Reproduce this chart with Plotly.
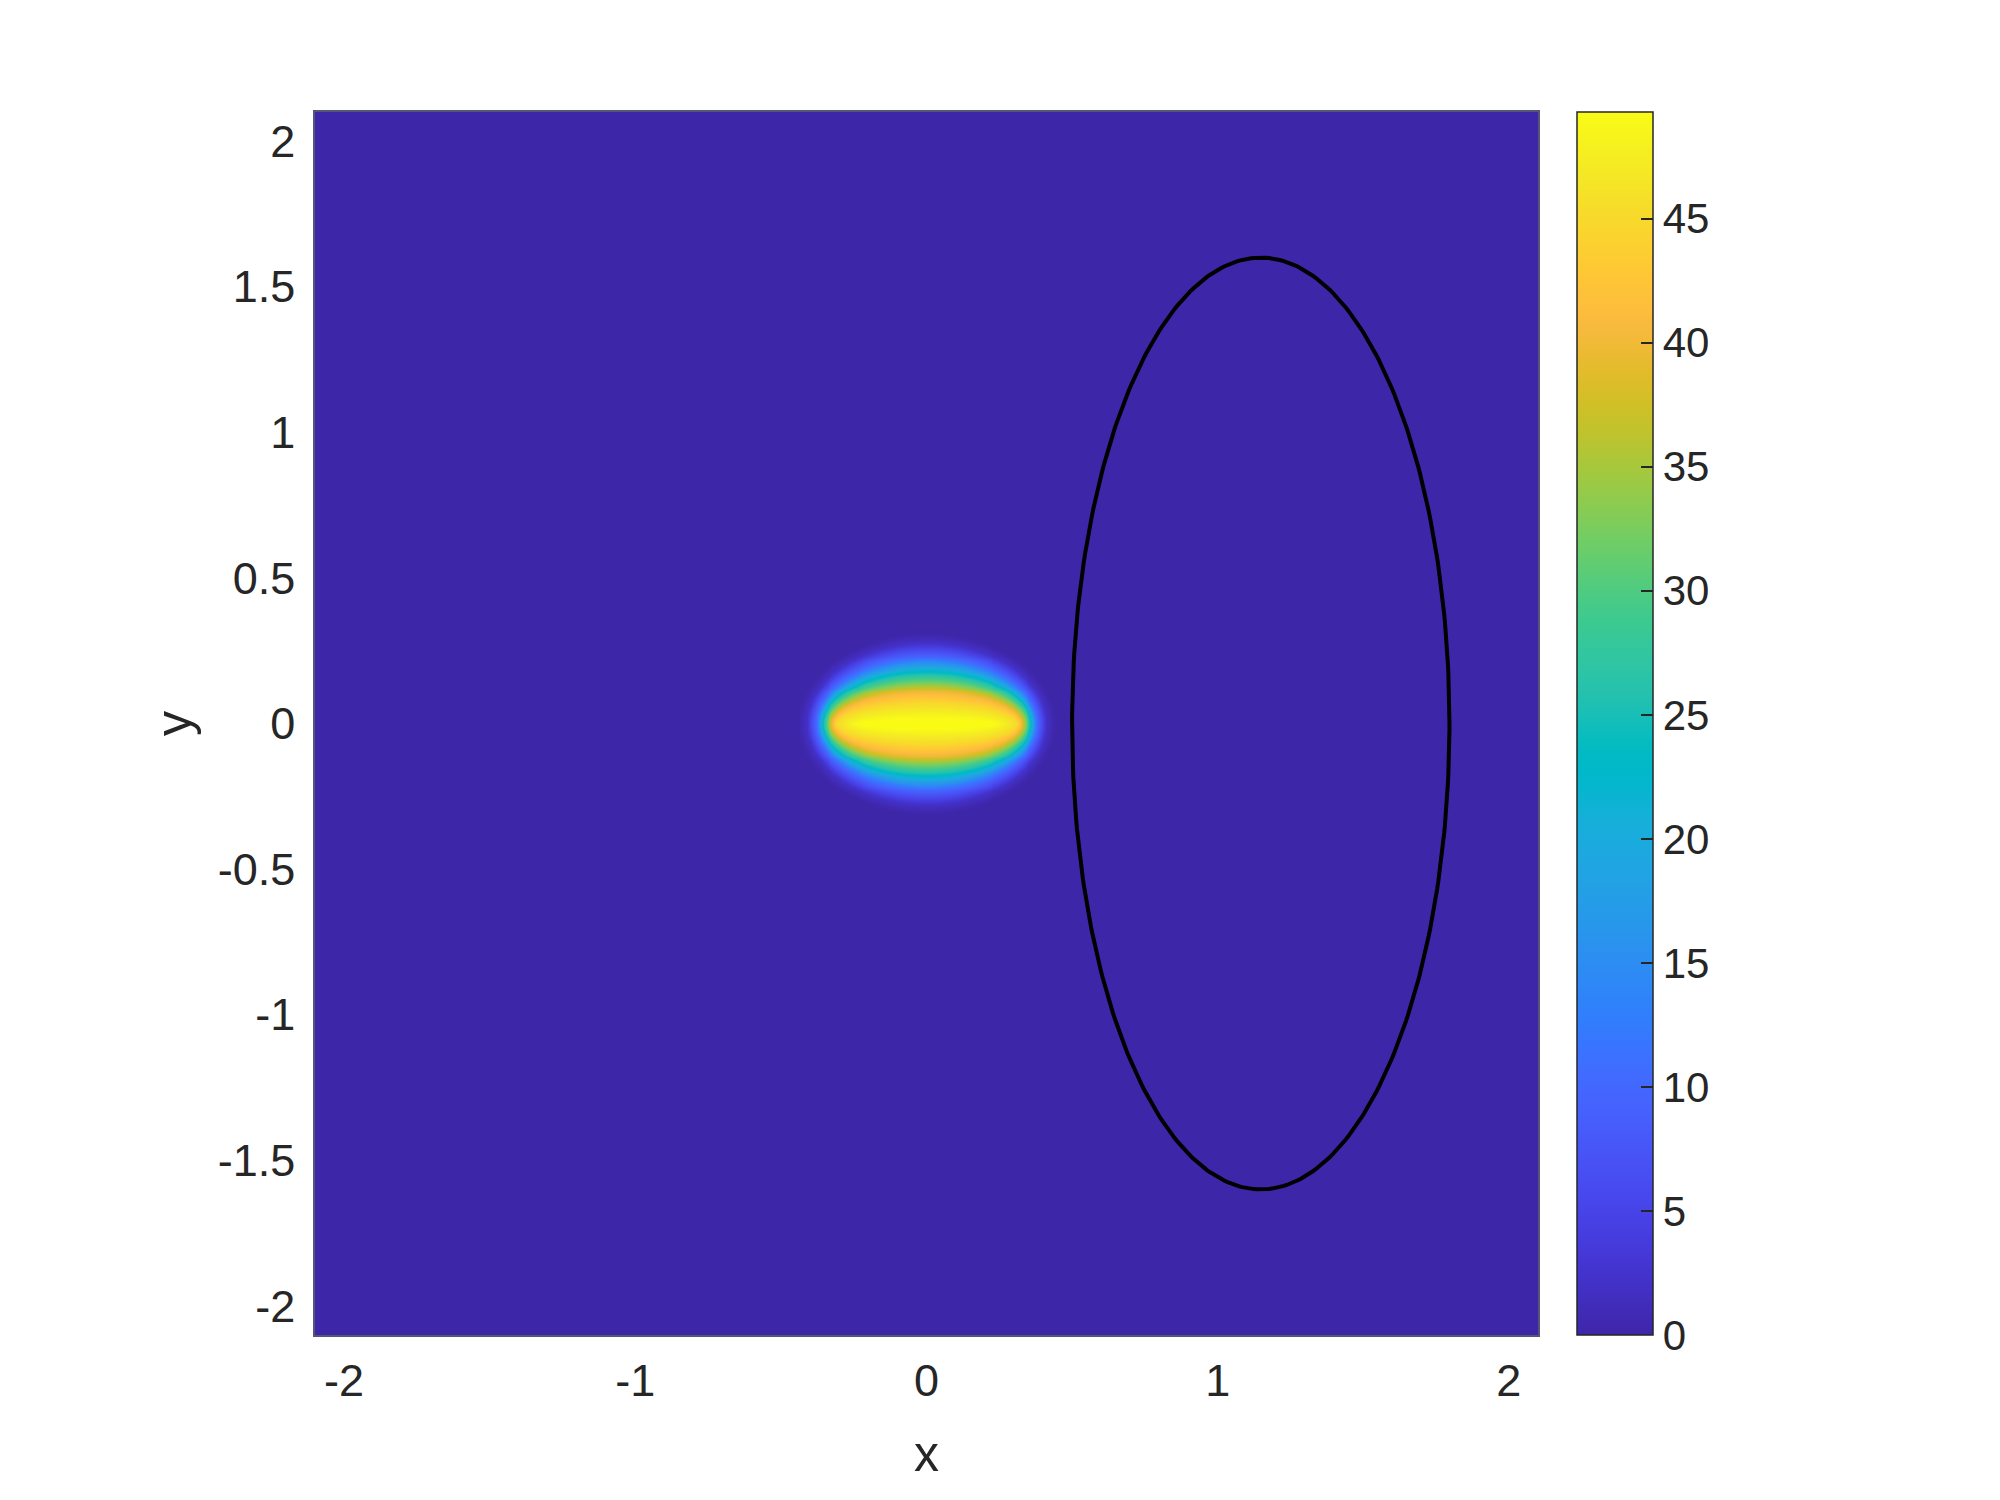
import numpy as np
import plotly.graph_objects as go

# field levels: value and the half-widths of its contour ellipse
levels = [49.3, 45, 40, 27, 10, 2, 0]
level_ax = [0.24, 0.31, 0.325, 0.352, 0.38, 0.41, 0.44]
level_ay = [0.02, 0.07, 0.11, 0.165, 0.228, 0.278, 0.31]
blob_center = (0.0, 0.0)

# black outline
ring_center = (1.148, 0.0)
ring_ax = 0.648
ring_ay = 1.60

cbar_ticks = [0, 5, 10, 15, 20, 25, 30, 35, 40, 45]
axis_ticks = [-2, -1.5, -1, -0.5, 0, 0.5, 1, 1.5, 2]
x_ticks = [-2, -1, 0, 1, 2]

parula = [
    [0.2422, 0.1504, 0.6603], [0.2504, 0.1650, 0.7076], [0.2578, 0.1818, 0.7511],
    [0.2647, 0.1978, 0.7952], [0.2706, 0.2147, 0.8364], [0.2751, 0.2342, 0.8710],
    [0.2783, 0.2559, 0.8991], [0.2803, 0.2782, 0.9221], [0.2813, 0.3006, 0.9414],
    [0.2810, 0.3228, 0.9579], [0.2795, 0.3447, 0.9717], [0.2760, 0.3667, 0.9829],
    [0.2699, 0.3892, 0.9906], [0.2602, 0.4123, 0.9952], [0.2440, 0.4358, 0.9988],
    [0.2206, 0.4603, 0.9973], [0.1963, 0.4847, 0.9892], [0.1834, 0.5074, 0.9798],
    [0.1786, 0.5289, 0.9682], [0.1764, 0.5499, 0.9520], [0.1687, 0.5703, 0.9359],
    [0.1540, 0.5902, 0.9218], [0.1460, 0.6091, 0.9079], [0.1380, 0.6276, 0.8973],
    [0.1248, 0.6459, 0.8883], [0.1113, 0.6635, 0.8763], [0.0952, 0.6798, 0.8598],
    [0.0689, 0.6948, 0.8394], [0.0297, 0.7082, 0.8163], [0.0036, 0.7203, 0.7917],
    [0.0067, 0.7312, 0.7660], [0.0433, 0.7411, 0.7394], [0.0964, 0.7500, 0.7120],
    [0.1408, 0.7584, 0.6842], [0.1717, 0.7670, 0.6554], [0.1938, 0.7758, 0.6251],
    [0.2161, 0.7843, 0.5923], [0.2470, 0.7918, 0.5567], [0.2906, 0.7973, 0.5188],
    [0.3406, 0.8008, 0.4789], [0.3909, 0.8029, 0.4354], [0.4456, 0.8024, 0.3909],
    [0.5044, 0.7993, 0.3480], [0.5616, 0.7942, 0.3045], [0.6174, 0.7876, 0.2612],
    [0.6720, 0.7793, 0.2227], [0.7242, 0.7698, 0.1910], [0.7738, 0.7598, 0.1646],
    [0.8203, 0.7498, 0.1535], [0.8634, 0.7406, 0.1596], [0.9035, 0.7330, 0.1774],
    [0.9393, 0.7288, 0.2100], [0.9728, 0.7298, 0.2394], [0.9956, 0.7434, 0.2371],
    [0.9970, 0.7659, 0.2199], [0.9952, 0.7893, 0.2028], [0.9892, 0.8136, 0.1885],
    [0.9786, 0.8386, 0.1766], [0.9676, 0.8639, 0.1643], [0.9610, 0.8890, 0.1537],
    [0.9597, 0.9135, 0.1423], [0.9628, 0.9373, 0.1265], [0.9691, 0.9606, 0.1064],
    [0.9769, 0.9839, 0.0805],
]
colorscale = [[i / (len(parula) - 1), "rgb(%d,%d,%d)" % tuple(int(round(c * 255)) for c in rgb)]
              for i, rgb in enumerate(parula)]

# grid
xs = np.round(np.arange(-2.1, 2.1001, 0.01), 4)
ys = np.round(np.arange(-2.1, 2.1001, 0.01), 4)
X, Y = np.meshgrid(xs - blob_center[0], ys - blob_center[1])
Z = np.zeros_like(X)

# fill nested ellipses from the outside in
idx = np.arange(len(levels))
for t in np.linspace(len(levels) - 1, 0, 600):
    a = np.interp(t, idx, level_ax)
    b = np.interp(t, idx, level_ay)
    v = np.interp(t, idx, levels)
    inside = (X / a) ** 2 + (Y / b) ** 2 < 1
    Z[inside] = v

th = np.linspace(0, 2 * np.pi, 400)
ex = ring_center[0] + ring_ax * np.cos(th)
ey = ring_center[1] + ring_ay * np.sin(th)

# page body has an 8px margin, so the plot area sits at 315..1538 x 112..1335
L, T, W, H = 307, 104, 1223, 1223

fig = go.Figure()
fig.add_trace(go.Heatmap(
    x=xs, y=ys, z=Z, zmin=0, zmax=max(levels), zsmooth="best",
    colorscale=colorscale, hoverinfo="skip",
    colorbar=dict(
        x=(1577 - 315) / W, xanchor="left", xpad=0,
        y=0.5, yanchor="middle", ypad=0,
        len=H, lenmode="pixels", thickness=76, thicknessmode="pixels",
        outlinewidth=1.5, outlinecolor="#262626",
        tickvals=cbar_ticks, ticks="inside", ticklen=12, tickwidth=1.5,
        tickcolor="#262626", tickprefix="\u00a0",
        tickfont=dict(size=42, color="#262626"),
    ),
))
fig.add_trace(go.Scatter(x=ex, y=ey, mode="lines", line=dict(color="black", width=4),
                         hoverinfo="skip", showlegend=False))

font = "Liberation Sans, Arial, Helvetica, sans-serif"
fig.update_layout(
    width=2000, height=1500,
    margin=dict(l=L, r=2000 - L - W, t=T, b=1500 - T - H),
    paper_bgcolor="white", plot_bgcolor="white",
    font=dict(family=font, color="#262626"),
    showlegend=False,
)
fig.update_xaxes(
    range=[-2.1, 2.1], tickvals=x_ticks, ticktext=[str(v) for v in x_ticks],
    showgrid=False, zeroline=False, ticks="",
    showline=True, mirror=True, linecolor="#555577", linewidth=1.5,
    tickfont=dict(size=45), ticklabelstandoff=5,
    title=dict(text="x", font=dict(size=50), standoff=31),
)
fig.update_yaxes(
    range=[-2.1, 2.1], tickvals=axis_ticks, ticktext=["%g" % v for v in axis_ticks],
    showgrid=False, zeroline=False, ticks="",
    showline=True, mirror=True, linecolor="#555577", linewidth=1.5,
    tickfont=dict(size=45), ticklabelstandoff=9,
    title=dict(text="y", font=dict(size=50), standoff=10),
)

fig.write_html("out.html")
